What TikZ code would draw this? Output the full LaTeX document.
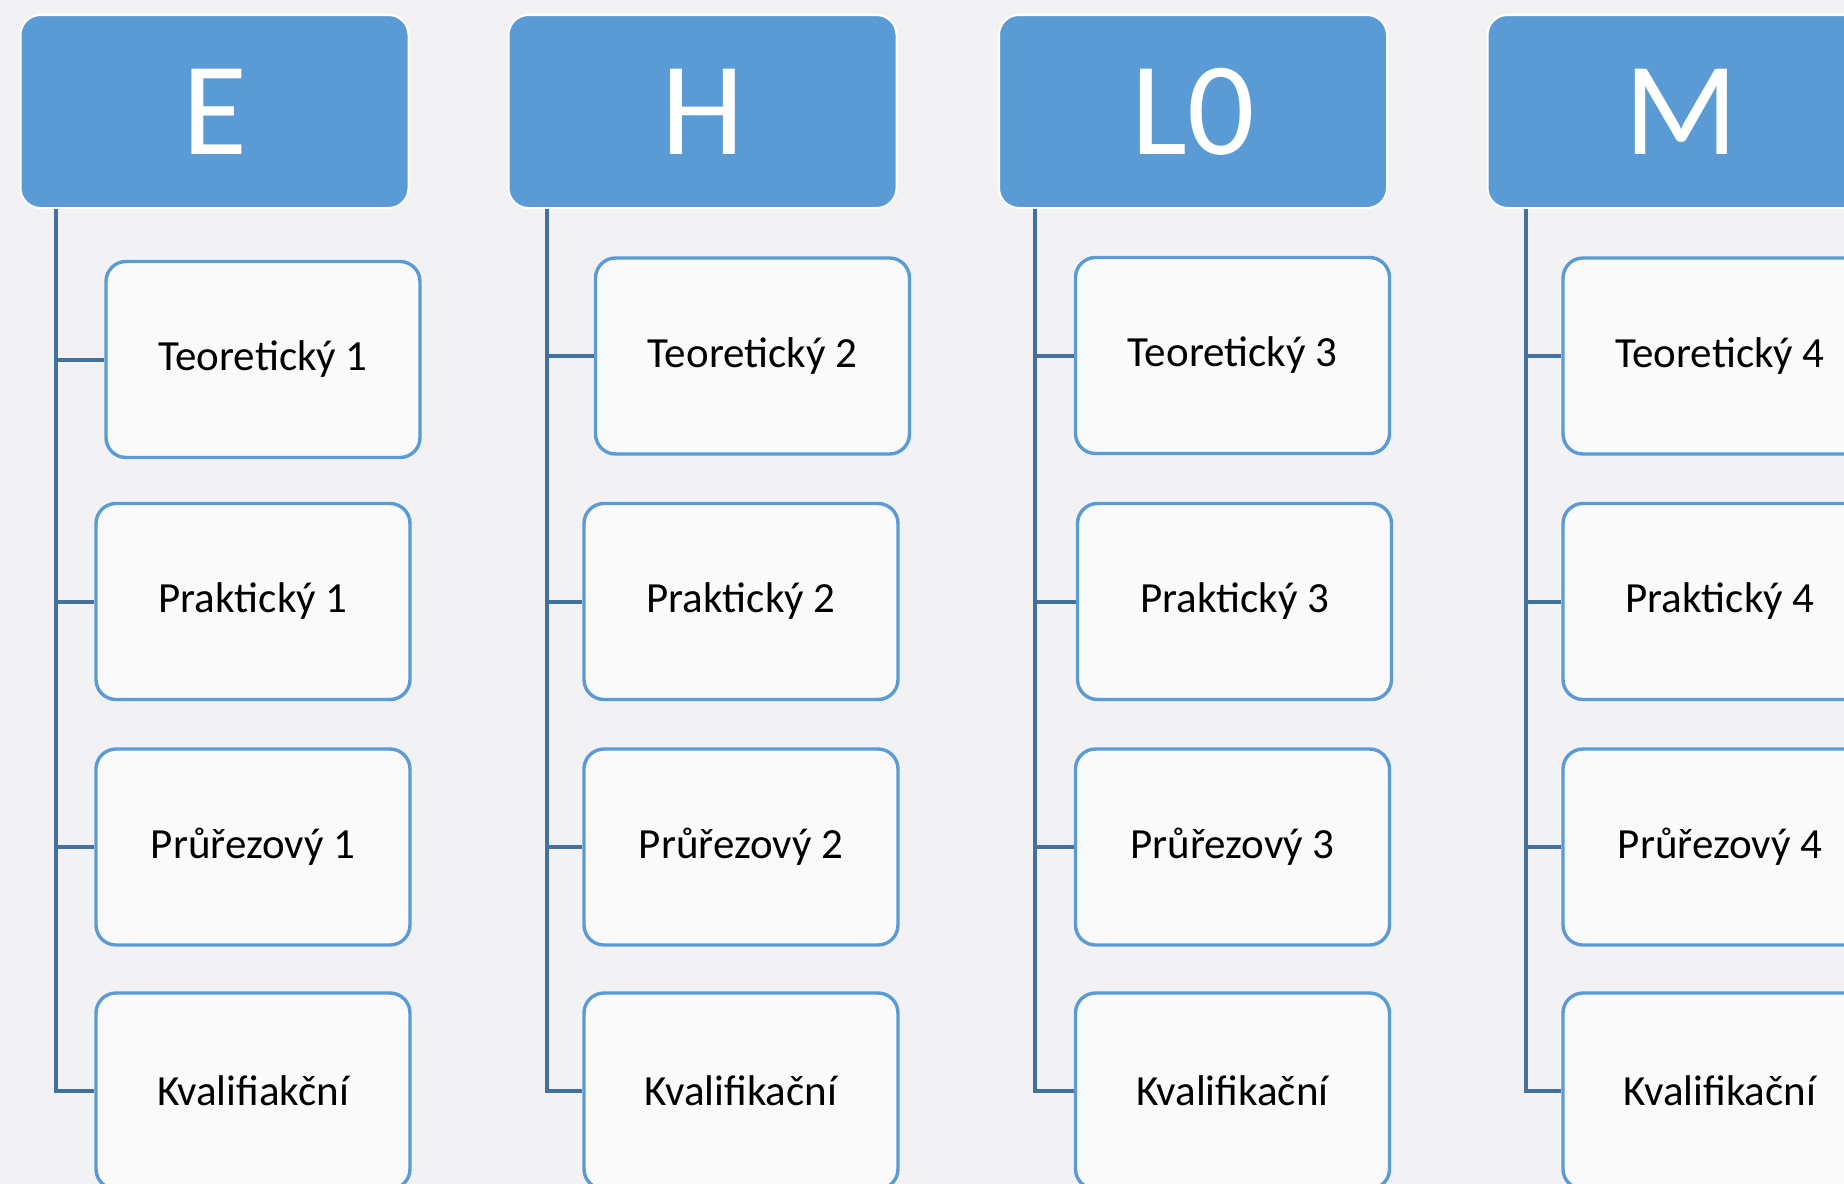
\documentclass[tikz,border=0pt]{standalone}
\usepackage{fontspec}
\setmainfont{Carlito}

\definecolor{hdblue}{HTML}{5B9BD5}
\definecolor{lnblue}{HTML}{41719C}
\definecolor{bggray}{HTML}{F2F2F4}
\definecolor{boxfill}{HTML}{FAFAFA}

\tikzset{
	head/.style={draw=white, line width=1pt, fill=hdblue, rounded corners=10pt,
		minimum width=194pt, minimum height=96.5pt, text=white,
		font=\fontsize{66.5}{66.5}\selectfont},
	item/.style={draw=hdblue, line width=1.7pt, fill=boxfill, rounded corners=10pt,
		minimum width=157pt, minimum height=98pt,
		font=\fontsize{21.5}{25}\selectfont},
	link/.style={draw=lnblue, line width=2pt}
}

\begin{document}
\begin{tikzpicture}[x=0.5pt, y=-0.5pt]
	\useasboundingbox (0,0) rectangle (1844,1184);
	\clip (0,0) rectangle (1844,1184);
	\fill[bggray] (0,0) rectangle (1844,1184);

	% headers
	\node[head] (hE) at (214.5,111.5) {E};
	\node[head] (hH) at (702.5,111.5) {H};
	\node[head] (hL) at (1193,111.5) {L0};
	\node[head] (hM) at (1681.5,111.5) {M};

	% column E
	\node[item] (tE) at (263,359.5) {Teoretický 1};
	\node[item] (pE) at (253,601.5) {Praktický 1};
	\node[item] (rE) at (253,847) {Průřezový 1};
	\node[item] (kE) at (253,1091) {Kvalifiakční};

	% column H
	\node[item] (tH) at (752.5,356) {Teoretický 2};
	\node[item] (pH) at (741,601.5) {Praktický 2};
	\node[item] (rH) at (741,847) {Průřezový 2};
	\node[item] (kH) at (741,1091) {Kvalifikační};

	% column L0
	\node[item] (tL) at (1232.5,355.5) {Teoretický 3};
	\node[item] (pL) at (1234.5,601.5) {Praktický 3};
	\node[item] (rL) at (1232.5,847) {Průřezový 3};
	\node[item] (kL) at (1232.5,1091) {Kvalifikační};

	% column M
	\node[item] (tM) at (1720,356) {Teoretický 4};
	\node[item] (pM) at (1720,601.5) {Praktický 4};
	\node[item] (rM) at (1720,847) {Průřezový 4};
	\node[item] (kM) at (1720,1091) {Kvalifikační};

	\draw[link] ([xshift=18pt]hE.south west) |- (tE.west);
	\draw[link] ([xshift=18pt]hE.south west) |- (pE.west);
	\draw[link] ([xshift=18pt]hE.south west) |- (rE.west);
	\draw[link] ([xshift=18pt]hE.south west) |- (kE.west);

	\draw[link] ([xshift=19.5pt]hH.south west) |- (tH.west);
	\draw[link] ([xshift=19.5pt]hH.south west) |- (pH.west);
	\draw[link] ([xshift=19.5pt]hH.south west) |- (rH.west);
	\draw[link] ([xshift=19.5pt]hH.south west) |- (kH.west);

	\draw[link] ([xshift=18.5pt]hL.south west) |- (tL.west);
	\draw[link] ([xshift=18.5pt]hL.south west) |- (pL.west);
	\draw[link] ([xshift=18.5pt]hL.south west) |- (rL.west);
	\draw[link] ([xshift=18.5pt]hL.south west) |- (kL.west);

	\draw[link] ([xshift=19.5pt]hM.south west) |- (tM.west);
	\draw[link] ([xshift=19.5pt]hM.south west) |- (pM.west);
	\draw[link] ([xshift=19.5pt]hM.south west) |- (rM.west);
	\draw[link] ([xshift=19.5pt]hM.south west) |- (kM.west);
\end{tikzpicture}
\end{document}
